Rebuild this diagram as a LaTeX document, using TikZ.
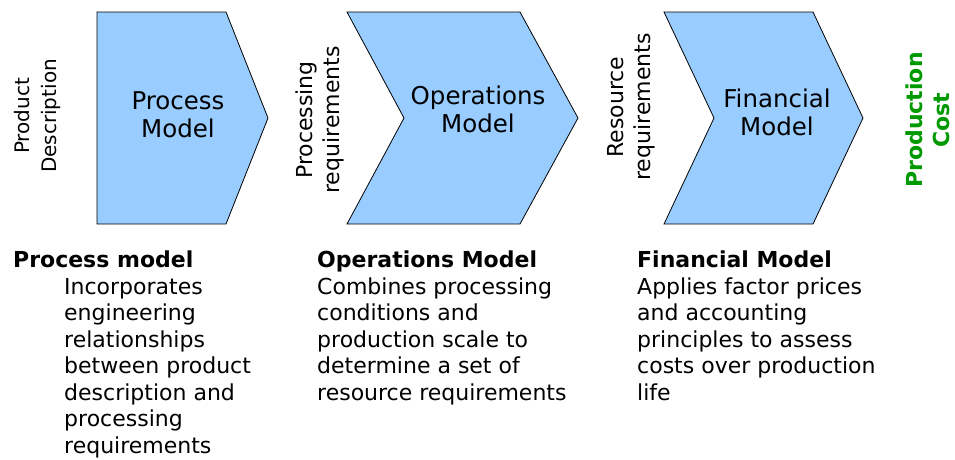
\documentclass[tikz,border=0pt]{standalone}
\usepackage{fontspec}
\setmainfont{DejaVu Sans}

\definecolor{modelblue}{HTML}{99CCFF}
\definecolor{costgreen}{HTML}{009900}

\tikzset{
  model/.style={draw=black, fill=modelblue, line width=0.8pt, line join=miter},
  modelname/.style={align=center, inner sep=0pt, font=\fontsize{24.5}{28}\selectfont},
  flow/.style={rotate=90, align=center, inner sep=0pt, font=\fontsize{22}{27}\selectfont},
  head/.style={anchor=base west, inner sep=0pt, font=\bfseries\fontsize{22}{27}\selectfont},
  % base anchor sits on the last line here
  body/.style={anchor=base west, align=left, inner sep=0pt, font=\fontsize{22}{26.5}\selectfont},
}

\begin{document}
\begin{tikzpicture}[x=1pt, y=-1pt]
  \useasboundingbox (0,0) rectangle (955,459);

  % model blocks
  \draw[model] (97,12) -- (226,12) -- (268,118) -- (226,224) -- (97,224) -- cycle;
  \draw[model] (347,12) -- (520,12) -- (578,118) -- (520,224) -- (347,224) -- (404,118) -- cycle;
  \draw[model] (664,12) -- (813,12) -- (863,118) -- (813,224) -- (664,224) -- (714,118) -- cycle;

  \node[modelname] (process) at (178,115) {Process\\Model};
  \node[modelname] (operations) at (478,109) {Operations\\Model};
  \node[modelname] (financial) at (777,112) {Financial\\Model};

  % what flows in and out
  \node[flow, font=\fontsize{20}{27}\selectfont] (product) at (37,116) {Product\\Description};
  \node[flow] (procreq) at (320,120) {Processing\\requirements};
  \node[flow] (resreq) at (631,107) {Resource\\requirements};
  \node[flow, text=costgreen, font=\bfseries\fontsize{22}{27}\selectfont] (cost) at (928,120) {Production\\Cost};

  % descriptions
  \node[head] (processhead) at (13,267) {Process model};
  \node[body] (processtext) at (64,453) {Incorporates\\engineering\\relationships\\between product\\description and\\processing\\requirements};

  \node[head] (operationshead) at (317,267) {Operations Model};
  \node[body] (operationstext) at (317,400) {Combines processing\\conditions and\\production scale to\\determine a set of\\resource requirements};

  \node[head] (financialhead) at (637,267) {Financial Model};
  \node[body] (financialtext) at (637,400) {Applies factor prices\\and accounting\\principles to assess\\costs over production\\life};
\end{tikzpicture}
\end{document}
